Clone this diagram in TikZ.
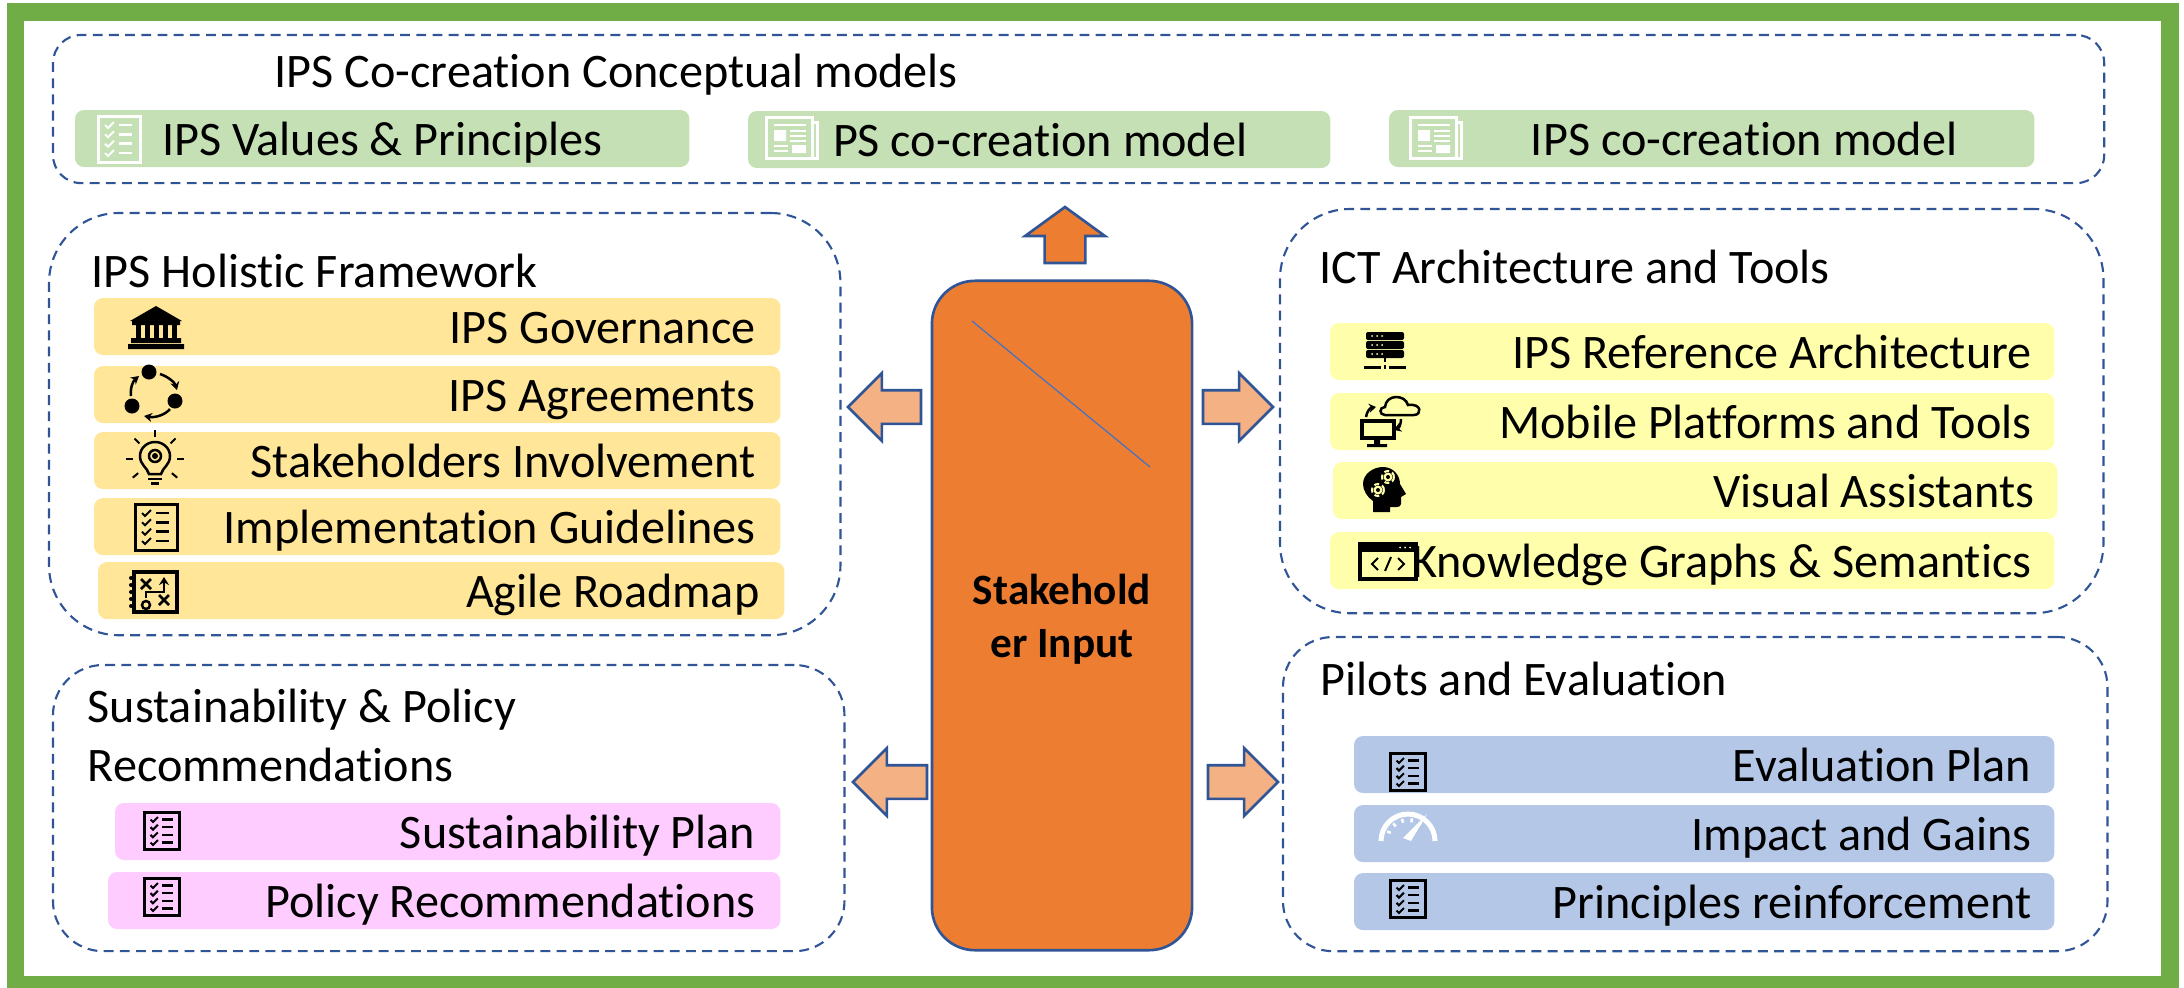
\documentclass[tikz,border=0pt]{standalone}
\usepackage{fontspec}
\setmainfont{Carlito}[Ligatures = NoCommon]
\usepackage{tikz}
\usetikzlibrary{positioning}
\usetikzlibrary{arrows.meta}
\usetikzlibrary{shapes.arrows}

\definecolor{framegreen}{HTML}{70AD47}
\definecolor{dashblue}{HTML}{2F5597}
\definecolor{slashblue}{HTML}{4472C4}
\definecolor{stakeorange}{HTML}{ED7D31}
\definecolor{arroworange}{HTML}{F4B183}
\definecolor{modelfill}{HTML}{C5E0B4}
\definecolor{holifill}{HTML}{FFE699}
\definecolor{ictfill}{HTML}{FFFFAB}
\definecolor{susfill}{HTML}{FFCCFF}
\definecolor{pilotfill}{HTML}{B4C7E7}

\tikzset{ panel/.style 2 args = { rectangle
                                , draw = dashblue
                                , line width = 0.6pt
                                , dash pattern = on 2.8pt off 1.8pt
                                , anchor = north west
                                , outer sep = 0pt
                                , minimum width = #1cm
                                , minimum height = #2cm }
        , bar/.style 2 args = { rectangle
                              , rounded corners = 0.09cm
                              , inner xsep = 0pt
                              , inner ysep = 0pt
                              , outer sep = 0pt
                              , minimum width = #1cm
                              , minimum height = 0.57cm
                              , text width = {(#1-2*#2)*1cm}
                              , text height = 0.45cm
                              , text depth = 0.12cm
                              , align = flush right }
        , paneltitle/.style = { inner sep = 0pt, anchor = base west }
        , outarrow/.style = { single arrow
                            , draw = dashblue
                            , line width = 0.75pt
                            , anchor = tip
                            , outer sep = 0pt
                            , inner sep = 0.155cm
                            , minimum width = 0.65cm
                            , single arrow head extend = 0.17cm }
        %% Icons, drawn around their centre
        , pics/checklist/.style = { code = {
            \draw[line width = 0.03cm] (-21,-23) rectangle (21,23);
            \foreach \y in {-14,-4.7,4.7,14} {
              \draw[line width = 0.02cm] (-14,\y) -- (-11,\y+3) -- (-5,\y-3);
              \draw[line width = 0.025cm] (0,\y) -- (13,\y);
            }
          }}
        , pics/newspaper/.style = { code = {
            \draw[line width = 0.03cm] (21,-17) -- (26,-17) -- (26,19) -- (-25,19)
                                       -- (-25,-22) -- (21,-22) -- (21,19);
            \draw[line width = 0.02cm] (-17,-14) -- (15,-14)
                                       (-1,-8) -- (15,-8) (-1,-3) -- (15,-3) (-1,2) -- (15,2)
                                       (-17,7) -- (-3,7) (-17,12) -- (-3,12);
            \fill (-17,-9) rectangle (-5,2) (1,6) rectangle (15,14);
          }}
        , pics/bank/.style = { code = {
            \fill (0,-21) -- (26,-6) -- (-26,-6) -- cycle;
            \fill (-24,-6) rectangle (24,-2) (-25,11) rectangle (25,16) (-28,17) rectangle (28,22);
            \foreach \x in {-18,-9,0,9,18} {
              \fill (\x-2.5,-2) rectangle (\x+2.5,11);
            }
          }}
        , pics/agreecycle/.style = { code = {
            \fill (-6,-21) circle [radius = 7.5] (20,8) circle [radius = 7.5] (-23,13) circle [radius = 7.5];
            \draw[line width = 0.025cm, -{Stealth[length = 0.08cm, width = 0.09cm]}]
              (5,-19) .. controls (14,-16) and (20,-10) .. (22,-3);
            \draw[line width = 0.025cm, -{Stealth[length = 0.08cm, width = 0.09cm]}]
              (15,16) .. controls (10,22) and (0,25) .. (-11,23);
            \draw[line width = 0.025cm, -{Stealth[length = 0.08cm, width = 0.09cm]}]
              (-24,3) .. controls (-25,-5) and (-22,-12) .. (-16,-17);
          }}
        , pics/bulb/.style = { code = {
            \draw[line width = 0.025cm] (-6,15) .. controls (-8,8) and (-15,6) .. (-15,-3)
              .. controls (-15,-11) and (-8,-17) .. (0,-17)
              .. controls (8,-17) and (15,-11) .. (15,-3)
              .. controls (15,6) and (8,8) .. (6,15) -- cycle;
            \draw[line width = 0.025cm] (0,-3) circle [radius = 6];
            \fill (0,-3) circle [radius = 3];
            \draw[line width = 0.025cm] (-7,20) -- (7,20);
            \draw[line width = 0.03cm] (-4,24) -- (4,24);
            \foreach \a in {0,180,270,225,315,40,140} {
              \draw[line width = 0.02cm] (\a:22) -- (\a:29);
            }
          }}
        , pics/roadmap/.style = { code = {
            \draw[line width = 0.04cm] (-20,-20) rectangle (23,20);
            \foreach \y in {-14,-7,0,7,14} {
              \fill (-23,\y) circle [radius = 2];
            }
            \draw[line width = 0.025cm] (-13,-13) -- (-3,-3) (-13,-3) -- (-3,-13)
                                        (5,3) -- (15,13) (5,13) -- (15,3)
                                        (-8,13) circle [radius = 4];
            \draw[line width = 0.025cm, -{Stealth[length = 0.08cm, width = 0.1cm]}]
              (-8,6) -- (-8,0) -- (10,0) -- (10,-15);
          }}
        , pics/serverrack/.style = { code = {
            \foreach \y in {-18,-9,0} {
              \fill[rounded corners = 0.02cm] (-19,\y) rectangle (19,\y+8);
              \foreach \x in {-13,-8,-3} {
                \fill[ictfill] (\x,\y+4) circle [radius = 1];
              }
            }
            \draw[line width = 0.02cm] (0,8) -- (0,12) (0,15) -- (0,19);
            \draw[line width = 0.03cm] (-21,17) -- (-4,17) (4,17) -- (21,17);
          }}
        , pics/cloudscreen/.style = { code = {
            \draw[line width = 0.035cm] (-28,0) rectangle (4,17);
            \fill (-16,17) rectangle (-10,24) (-23,23) rectangle (-3,26);
            \draw[line width = 0.025cm] (-5,-6) .. controls (-11,-6) and (-11,-14) .. (-5,-14)
              .. controls (-4,-27) and (15,-27) .. (18,-16)
              .. controls (32,-18) and (32,-6) .. (24,-6) -- cycle;
            \draw[line width = 0.025cm, -{Stealth[length = 0.07cm, width = 0.09cm]}]
              (-24,-4) .. controls (-23,-10) and (-20,-13) .. (-14,-14);
            \draw[line width = 0.025cm, -{Stealth[length = 0.07cm, width = 0.09cm]}]
              (11,-2) .. controls (11,3) and (9,7) .. (4,9);
          }}
        , pics/gearhead/.style = { code = {
            \fill (-14,23) -- (-14,12) .. controls (-20,8) and (-24,1) .. (-24,-5)
              .. controls (-24,-15) and (-14,-22) .. (-4,-22)
              .. controls (6,-22) and (13,-14) .. (13,-5)
              -- (19,5) -- (14,8) -- (14,15) .. controls (14,17) and (12,18) .. (10,18)
              -- (3,18) -- (3,23) -- cycle;
            \foreach \x/\y in {1/-12,-9/1} {
              \draw[ictfill, line width = 0.02cm, dash pattern = on 1.4pt off 0.9pt] (\x,\y) circle [radius = 6];
              \fill[ictfill] (\x,\y) circle [radius = 4.5];
              \fill (\x,\y) circle [radius = 2];
            }
          }}
        , pics/codewindow/.style = { code = {
            \draw[line width = 0.035cm] (-28,-18) rectangle (28,17);
            \fill (-29,-19) rectangle (29,-10);
            \foreach \x in {12,17,22} {
              \fill[ictfill] (\x,-14.5) circle [radius = 1];
            }
            \draw[line width = 0.02cm] (-10,-4) -- (-16,2) -- (-10,8)
                                       (-3,9) -- (3,-5)
                                       (10,-4) -- (16,2) -- (10,8);
          }}
        , pics/speedgauge/.style = { code = {
            \draw[line width = 0.05cm] (-27,14) arc [start angle = 180, end angle = 360, radius = 27];
            \foreach \a in {205,230,255,280,305} {
              \draw[line width = 0.025cm] (\a:19) ++ (0,14) -- ++ (\a:4);
            }
            \fill (-5,11) -- (19,-13) -- (3,14) -- cycle;
          }}
        }

\begin{document}
\begin{tikzpicture}[ x = 0.01cm
                   , y = -0.01cm
                   , font = \fontsize{13.7}{16.5}\selectfont
                   ]
  \useasboundingbox (0,0) rectangle (2184,987);

  %%
  %% Frame
  %%
  \node (frame) [ rectangle, draw = framegreen, line width = 0.175cm
                , anchor = north west, outer sep = 0pt
                , minimum width = 21.53cm, minimum height = 9.72cm ] at (15.5,12) {};

  %%
  %% Dashed panels
  %%
  \node (modelbox) [panel = {20.50}{1.48}, rounded corners = 0.28cm] at (53,35) {};
  \node (holibox)  [panel = {7.91}{4.22}, rounded corners = 0.7cm] at (49,213) {};
  \node (ictbox)   [panel = {8.23}{4.04}, rounded corners = 0.7cm] at (1280,209) {};
  \node (susbox)   [panel = {7.91}{2.86}, rounded corners = 0.5cm] at (53,665) {};
  \node (pilotbox) [panel = {8.24}{3.14}, rounded corners = 0.5cm] at (1283,637) {};

  %%
  %% Panel titles
  %%
  \node (modeltitle) [paneltitle] at (274,87)   {IPS Co-creation Conceptual models};
  \node (holititle)  [paneltitle] at (91,287)   {IPS Holistic Framework};
  \node (icttitle)   [paneltitle] at (1319,283) {ICT Architecture and Tools};
  \node (pilottitle) [paneltitle] at (1320,695) {Pilots and Evaluation};
  \node (sustitle)   [paneltitle, align = flush left] at (87,781) {Sustainability \& Policy\\Recommendations};

  %%
  %% Bars
  %%
  \tikzset{every node/.append style = {anchor = north west}}
  \node (values) [bar = {6.14}{0.87}, fill = modelfill] at (75,110)   {IPS Values \& Principles};
  \node (psmodel) [bar = {5.82}{0.83}, fill = modelfill] at (748,111) {PS co-creation model};
  \node (ipsmodel) [bar = {6.45}{0.77}, fill = modelfill] at (1389,110) {IPS co-creation model};

  \tikzset{holibar/.style = {bar = {6.86}{0.25}, fill = holifill}}
  \node (gov) [holibar] at (94,298) {IPS Governance};
  \node (agree) [holibar, below = 0.11cm of gov] {IPS Agreements};
  \node (involve) [holibar, below = 0.09cm of agree] {Stakeholders Involvement};
  \node (guide) [holibar, below = 0.09cm of involve] {Implementation Guidelines};
  \node (agile) [holibar, below = 0.07cm of guide, xshift = 0.04cm] {Agile Roadmap};

  \tikzset{ictbar/.style = {bar = {7.24}{0.23}, fill = ictfill}}
  \node (refarch) [ictbar] at (1330,323) {IPS Reference Architecture};
  \node (mobile) [ictbar, below = 0.13cm of refarch] {Mobile Platforms and Tools};
  \node (visual) [ictbar, below = 0.12cm of mobile, xshift = 0.03cm] {Visual Assistants};
  \node (graphs) [ictbar, below = 0.13cm of visual, xshift = -0.03cm] {Knowledge Graphs \& Semantics};

  \node (susplan) [bar = {6.65}{0.25}, fill = susfill] at (115,803) {Sustainability Plan};
  \node (policy) [bar = {6.72}{0.25}, fill = susfill] at (108,872) {Policy Recommendations};

  \tikzset{pilotbar/.style = {bar = {7.00}{0.23}, fill = pilotfill}}
  \node (evalplan) [pilotbar] at (1354,736) {Evaluation Plan};
  \node (impact) [pilotbar, below = 0.12cm of evalplan] {Impact and Gains};
  \node (reinforce) [pilotbar, below = 0.11cm of impact] {Principles reinforcement};

  %%
  %% Icons
  %%
  \pic[white] at (119,139) {checklist};
  \pic[white] at (791,139) {newspaper};
  \pic[white] at (1435,139) {newspaper};
  \pic at (156,327) {bank};
  \pic at (155,393) {agreecycle};
  \pic at (155,459) {bulb};
  \pic at (156,527) {checklist};
  \pic at (154,592) {roadmap};
  \pic at (1385,350) {serverrack};
  \pic at (1390,421) {cloudscreen};
  \pic at (1387,489) {gearhead};
  \pic at (1388,562) {codewindow};
  \pic[scale = 0.82] at (162,831) {checklist};
  \pic[scale = 0.82] at (162,897) {checklist};
  \pic[scale = 0.82] at (1408,772) {checklist};
  \pic[white] at (1408,827) {speedgauge};
  \pic[scale = 0.82] at (1408,899) {checklist};

  %%
  %% Stakeholder column with its arrows
  %%
  \node (stake) [ rectangle, rounded corners = 0.43cm, draw = dashblue, line width = 0.75pt
                , fill = stakeorange, outer sep = 0pt, anchor = center, align = flush center
                , minimum width = 2.6cm, minimum height = 6.69cm, text depth = -0.06cm
                , font = \fontsize{12.3}{15}\selectfont\bfseries ] at (1062,615.5)
                {Stakehold\\er Input};
  \coordinate (slashstart) at (972,321);
  \coordinate (slashend) at (1150,467);
  \draw[slashblue, line width = 0.35pt] (slashstart) -- (slashend);

  \tikzset{every node/.append style = {anchor = tip}}
  \node (toleft) [outarrow, fill = arroworange, shape border rotate = 180, minimum height = 0.73cm] at (848,407) {};
  \node (toright) [outarrow, fill = arroworange, minimum height = 0.70cm] at (1273,407) {};
  \node (downleft) [outarrow, fill = arroworange, shape border rotate = 180, minimum height = 0.74cm] at (853,782) {};
  \node (downright) [outarrow, fill = arroworange, minimum height = 0.70cm] at (1278,782) {};
  \node (toup) [ outarrow, fill = stakeorange, shape border rotate = 90, minimum height = 0.56cm
               , inner sep = 0.19cm, minimum width = 0.77cm, single arrow head extend = 0.195cm
               , single arrow tip angle = 108 ] at (1065,207) {};
\end{tikzpicture}
\end{document}
